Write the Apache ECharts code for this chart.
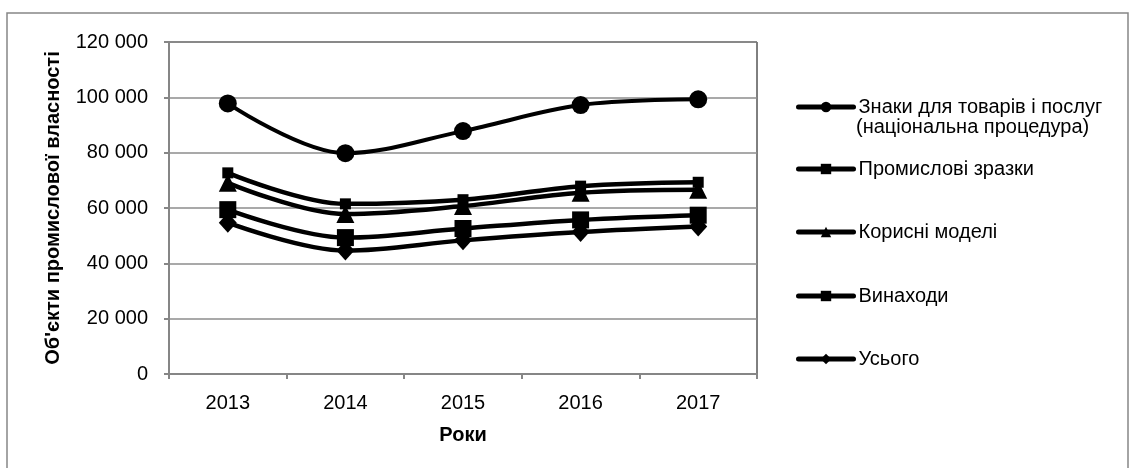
<!DOCTYPE html>
<html>
<head>
<meta charset="utf-8">
<script src="https://cdn.jsdelivr.net/npm/echarts@6/dist/echarts.min.js"></script>
<style>
html,body{margin:0;padding:0;background:#fff;}
#chart{width:1132px;height:468px;}
</style>
</head>
<body>
<div id="chart"></div>
<script>
const years = ['2013', '2014', '2015', '2016', '2017'];
const trademarks = [97800, 79800, 87800, 97200, 99300];
const designs = [72700, 61500, 63000, 67900, 69300];
const utilityModels = [69100, 57800, 60700, 65500, 66600];
const inventions = [59400, 49300, 52600, 55700, 57400];
const total = [54700, 44600, 48300, 51300, 53300];

const seriesNames = [
  'Знаки для товарів і послуг',
  'Промислові зразки',
  'Корисні моделі',
  'Винаходи',
  'Усього'
];
const legendSecondLine = '(національна процедура)';
const yAxisTitle = "Об'єкти промислової власності";
const xAxisTitle = 'Роки';

const FONT = '"Liberation Sans", Arial, sans-serif';
const FS = 20;
const chart = echarts.init(document.getElementById('chart'));

function fmt(v) {
  return String(v).replace(/\B(?=(\d{3})+(?!\d))/g, ' ');
}

const seriesDefs = [
  { data: trademarks, symbol: 'circle', symbolSize: 18, width: 4 },
  { data: designs, symbol: 'rect', symbolSize: 11, width: 4.5 },
  { data: utilityModels, symbol: 'triangle', symbolSize: [18, 18], width: 4.5 },
  { data: inventions, symbol: 'rect', symbolSize: 17, width: 4.5 },
  { data: total, symbol: 'diamond', symbolSize: [18, 20], width: 4.5 }
];

const series = seriesDefs.map((d, i) => ({
  type: 'line',
  name: seriesNames[i],
  data: d.data,
  smooth: 0.35,
  symbol: d.symbol,
  symbolSize: d.symbolSize,
  lineStyle: { color: '#000', width: d.width },
  itemStyle: { color: '#000' },
  emphasis: { disabled: true },
  animation: false
}));

const legendCenters = [107, 169, 232, 296, 359];
const legends = seriesNames.map((n, i) => ({
  data: [n],
  left: 796,
  top: legendCenters[i] - 10,
  padding: 0,
  orient: 'vertical',
  itemWidth: 55,
  itemHeight: 13,
  selectedMode: false,
  lineStyle: { width: 5, cap: 'round' },
  textStyle: { fontFamily: FONT, fontSize: FS, color: '#000', lineHeight: 20 }
}));

chart.setOption({
  backgroundColor: '#fff',
  animation: false,
  textStyle: { fontFamily: FONT },
  grid: {
    left: 169, right: 375, top: 42, bottom: 94,
    show: true, borderColor: '#000', borderWidth: 1, backgroundColor: 'transparent'
  },
  legend: legends,
  graphic: [
    {
      type: 'rect',
      shape: { x: 7, y: 13, width: 1121, height: 470 },
      style: { fill: 'none', stroke: '#868686', lineWidth: 1.5 },
      silent: true
    },
    {
      type: 'text',
      left: 856,
      top: 117,
      style: { text: legendSecondLine, font: FS + 'px ' + FONT, fill: '#000' },
      silent: true
    }
  ],
  xAxis: {
    type: 'category',
    data: years,
    boundaryGap: true,
    name: xAxisTitle,
    nameLocation: 'middle',
    nameGap: 51,
    nameTextStyle: { fontFamily: FONT, fontSize: FS, fontWeight: 'bold', color: '#000' },
    axisLine: { lineStyle: { color: '#868686', width: 2 } },
    axisTick: { show: true, length: 5, lineStyle: { color: '#868686', width: 2 } },
    axisLabel: { fontFamily: FONT, fontSize: FS, color: '#000', margin: 19 },
    splitLine: { show: false }
  },
  yAxis: {
    type: 'value',
    min: 0, max: 120000, interval: 20000,
    name: yAxisTitle,
    nameLocation: 'middle',
    nameRotate: 90,
    nameGap: 106,
    nameTextStyle: { fontFamily: FONT, fontSize: FS, fontWeight: 'bold', color: '#000' },
    axisLine: { show: true, lineStyle: { color: '#868686', width: 2 } },
    axisTick: { show: true, length: 5, lineStyle: { color: '#868686', width: 2 } },
    axisLabel: { fontFamily: FONT, fontSize: FS, color: '#000', margin: 21, formatter: fmt },
    splitLine: { show: true, lineStyle: { color: '#8c8c8c', width: 1.5 } }
  },
  series: series
});
</script>
</body>
</html>
